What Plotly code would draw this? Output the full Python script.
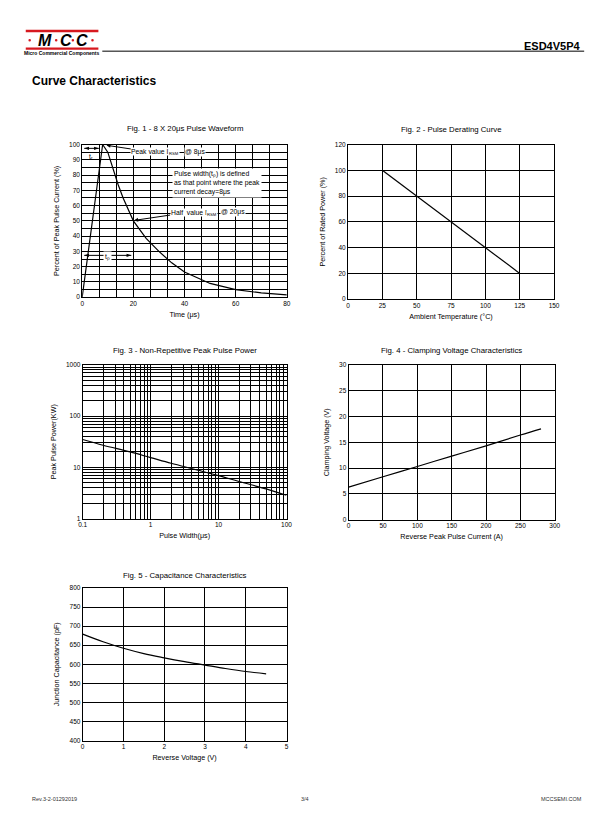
import plotly.graph_objects as go

OFF = 8  # default body margin of the html page
W, H = 592, 805  # keeps the page free of scrollbars inside a 612x825 window
FONT = "Liberation Sans, Arial, Helvetica, sans-serif"

# ---------------- data ----------------
fig1_t = [0, 8, 10, 12, 14, 16, 18, 20, 25, 30, 35, 40, 50, 60, 70, 80]
fig1_i = [0, 100, 95, 84, 74, 65, 57, 50, 38.5, 30, 22.5, 16.5, 9, 5, 2.8, 1.5]
fig1_tr_span = [0.8, 6.5]    # rise-time dimension arrow (μs)
fig1_tr_level = [97.5, 97.5]
fig1_tp_span = [0.8, 19.2]   # pulse-width dimension arrow (μs)
fig1_tp_level = [27.4, 27.4]

fig2_temp = [25, 125]
fig2_power = [100, 20]

fig3_width = [0.1, 0.2, 0.5, 1, 2, 5, 10, 20, 50, 100]
fig3_power = [35, 27, 20, 15.5, 12, 8.8, 6.9, 5.3, 3.8, 2.85]

fig4_current = [0, 50, 100, 150, 200, 250, 280]
fig4_voltage = [6.3, 8.3, 10.3, 12.3, 14.3, 16.4, 17.6]

fig5_voltage = [0, 0.5, 1, 1.5, 2, 2.5, 3, 3.5, 4, 4.5]
fig5_cap = [679, 659, 642, 628, 617, 607, 598, 589, 581, 575]

fig3_tickvals_x = [0.1, 1, 10, 100]
fig3_ticktext_x = ["0.1", "1", "10", "100"]
fig3_tickvals_y = [1, 10, 100, 1000]
fig3_ticktext_y = ["1", "10", "100", "1000"]

titles = [
    "Fig. 1 - 8 X 20μs Pulse Waveform",
    "Fig. 2 - Pulse Derating Curve",
    "Fig. 3 - Non-Repetitive Peak Pulse Power",
    "Fig. 4 - Clamping Voltage Characteristics",
    "Fig. 5 - Capacitance Characteristics",
]


# ---------------- helpers (page pixels -> paper) ----------------
def px(x):
    return (x - OFF) / W


def py(y):
    return 1 - (y - OFF) / H


# plot boxes in page pixels: (left, right, top, bottom)
boxes = [
    (78.5, 287.0, 141.7, 295.7),
    (349.3, 559.3, 141.7, 297.7),
    (79.0, 286.7, 364.0, 519.0),
    (350.0, 560.0, 364.0, 520.0),
    (79.0, 286.7, 589.0, 743.0),
]
title_y = [126, 127, 349, 349, 576]

fig = go.Figure()

line_style = dict(color="black", width=1.2)
spline_style = dict(color="black", width=1.2, shape="spline")
fig.add_trace(go.Scatter(x=fig1_t, y=fig1_i, mode="lines", line=line_style, xaxis="x", yaxis="y"))
fig.add_trace(go.Scatter(x=fig2_temp, y=fig2_power, mode="lines", line=line_style, xaxis="x2", yaxis="y2"))
fig.add_trace(go.Scatter(x=fig3_width, y=fig3_power, mode="lines", line=spline_style, xaxis="x3", yaxis="y3"))
fig.add_trace(go.Scatter(x=fig4_current, y=fig4_voltage, mode="lines", line=spline_style, xaxis="x4", yaxis="y4"))
fig.add_trace(go.Scatter(x=fig5_voltage, y=fig5_cap, mode="lines", line=spline_style, xaxis="x5", yaxis="y5"))

# dimension arrows of fig 1
for xs, ys in ((fig1_tr_span, fig1_tr_level), (fig1_tp_span, fig1_tp_level)):
    fig.add_trace(go.Scatter(
        x=xs, y=ys, mode="lines+markers", xaxis="x", yaxis="y",
        line=dict(color="black", width=1),
        marker=dict(symbol="arrow", angle=[-90, 90], size=5, color="black", line=dict(width=0)),
        hoverinfo="skip"))

tickfont = dict(family=FONT, size=6.5, color="black")
titlefont = dict(family=FONT, size=7.2, color="black")


def axis(domain, **kw):
    d = dict(
        domain=domain,
        showline=True,
        mirror=True,
        linecolor="black",
        linewidth=1,
        showgrid=True,
        gridcolor="black",
        gridwidth=1,
        zeroline=False,
        ticks="",
        tickfont=tickfont,
        fixedrange=True,
    )
    d.update(kw)
    return d


grid_minor = dict(showgrid=True, gridcolor="black", gridwidth=1)
axes_cfg = [
    # fig1
    (dict(range=[0, 80], dtick=20, title=dict(text="Time (μs)", font=titlefont, standoff=5),
          minor=dict(dtick=20 / 3, **grid_minor)),
     dict(range=[0, 100], dtick=10, title=dict(text="Percent of Peak Pulse Current (%)", font=titlefont, standoff=8),
          minor=dict(dtick=5, **grid_minor))),
    # fig2
    (dict(range=[0, 150], dtick=25, title=dict(text="Ambient Temperature (°C)", font=titlefont, standoff=5)),
     dict(range=[0, 120], dtick=20, title=dict(text="Percent of Rated Power (%)", font=titlefont, standoff=8))),
    # fig3
    (dict(type="log", range=[-1, 2], tickvals=fig3_tickvals_x, ticktext=fig3_ticktext_x,
          title=dict(text="Pulse Width(μs)", font=titlefont, standoff=5),
          minor=dict(dtick="D1", **grid_minor)),
     dict(type="log", range=[0, 3], tickvals=fig3_tickvals_y, ticktext=fig3_ticktext_y,
          title=dict(text="Peak Pulse Power(KW)", font=titlefont, standoff=8),
          minor=dict(dtick="D1", **grid_minor))),
    # fig4
    (dict(range=[0, 300], dtick=50, title=dict(text="Reverse Peak Pulse Current (A)", font=titlefont, standoff=5)),
     dict(range=[0, 30], dtick=5, title=dict(text="Clamping Voltage (V)", font=titlefont, standoff=8))),
    # fig5
    (dict(range=[0, 5], dtick=1, title=dict(text="Reverse Voltage (V)", font=titlefont, standoff=5)),
     dict(range=[400, 800], dtick=50, title=dict(text="Junction Capacitance (pF)", font=titlefont, standoff=8))),
]

layout = dict(
    width=W,
    height=H,
    autosize=False,
    margin=dict(l=0, r=0, t=0, b=0),
    paper_bgcolor="white",
    plot_bgcolor="white",
    showlegend=False,
    font=dict(family=FONT, color="black"),
)

for i, ((xa, ya), (l, r, t, b)) in enumerate(zip(axes_cfg, boxes)):
    n = "" if i == 0 else str(i + 1)
    layout["xaxis" + n] = axis([px(l), px(r)], anchor="y" + n, **xa)
    layout["yaxis" + n] = axis([py(b), py(t)], anchor="x" + n, **ya)

fig.update_layout(**layout)

annotations = []
# figure titles
for (l, r, t, b), ty, txt in zip(boxes, title_y, titles):
    annotations.append(dict(x=px((l + r) / 2), y=py(ty), xref="paper", yref="paper", text=txt,
                            showarrow=False, font=dict(family=FONT, size=7.8, color="black"),
                            xanchor="center", yanchor="middle"))

afont = dict(family=FONT, size=6.8, color="black")
sfont = dict(family=FONT, size=4.2, color="black")
arrow = dict(showarrow=True, arrowhead=2, arrowsize=0.8, arrowwidth=1, arrowcolor="black")
# Fig 1 annotations
annotations += [
    dict(x=3.6, y=92, xref="x", yref="y", text="tᵣ", showarrow=False, font=afont),
    # peak value
    dict(x=9.5, y=99.5, ax=26.6, ay=95.2, xref="x", yref="y", axref="x", ayref="y",
         text="Peak value I", font=afont, bgcolor="white", borderpad=0, **arrow),
    dict(x=36.0, y=95.2, xref="x", yref="y", text="RSM", showarrow=False, font=sfont, yshift=-2,
         bgcolor="white", borderpad=0),
    dict(x=44.2, y=95.2, xref="x", yref="y", text="@ 8μs", showarrow=False, font=afont,
         bgcolor="white", borderpad=0),
    # pulse width definition
    dict(x=52.8, y=74.5, xref="x", yref="y",
         text="Pulse width(tₚ) is defined<br>as that point where the peak<br>current decay=8μs",
         showarrow=False, align="left", font=afont, bgcolor="white", borderpad=1),
    # half value
    dict(x=20.3, y=50.3, ax=41.6, ay=55.6, xref="x", yref="y", axref="x", ayref="y",
         text="Half  value I", font=afont, bgcolor="white", borderpad=0, **arrow),
    dict(x=50.8, y=55.6, xref="x", yref="y", text="RSM", showarrow=False, font=sfont, yshift=-2,
         bgcolor="white", borderpad=0),
    dict(x=59.0, y=55.6, xref="x", yref="y", text="@ 20μs", showarrow=False, font=afont,
         bgcolor="white", borderpad=0),
    # t_p label
    dict(x=10, y=26.6, xref="x", yref="y", text="tₚ", showarrow=False, font=afont,
         bgcolor="white", borderpad=1),
]

RED = "#d7191f"
logo_font = dict(family=FONT, size=16, color="black", weight="bold", style="italic")
for cx, letter in ((40.5, "M"), (61.5, "C"), (78.5, "C")):
    annotations.append(dict(x=px(cx), y=py(36.3), xref="paper", yref="paper", text=letter, showarrow=False,
                            font=logo_font, xanchor="center", yanchor="middle"))

annotations += [
    dict(x=px(57.5), y=py(49.4), xref="paper", yref="paper", text="Micro Commercial Components",
         showarrow=False, font=dict(family="Liberation Sans Narrow, " + FONT, size=5, color="black", weight="bold"),
         xanchor="center", yanchor="middle"),
    dict(x=px(589), y=py(42), xref="paper", yref="paper", text="ESD4V5P4", showarrow=False,
         font=dict(family=FONT, size=11, color="black", weight="bold"), xanchor="right", yanchor="middle"),
    dict(x=px(25), y=py(78), xref="paper", yref="paper", text="Curve Characteristics", showarrow=False,
         font=dict(family=FONT, size=12, color="black", weight="bold"), xanchor="left", yanchor="middle"),
    dict(x=px(25), y=py(802), xref="paper", yref="paper", text="Rev.3-2-01292019", showarrow=False,
         font=dict(family=FONT, size=5.5, color="#333333"), xanchor="left", yanchor="middle"),
    dict(x=px(306), y=py(802), xref="paper", yref="paper", text="3/4", showarrow=False,
         font=dict(family=FONT, size=5.5, color="#333333"), xanchor="center", yanchor="middle"),
    dict(x=px(590), y=py(802), xref="paper", yref="paper", text="MCCSEMI.COM", showarrow=False,
         font=dict(family=FONT, size=5.5, color="#333333"), xanchor="right", yanchor="middle"),
]

shapes = [
    dict(type="rect", xref="paper", yref="paper", x0=px(21), x1=px(95), y0=py(28.5), y1=py(26),
         fillcolor=RED, line=dict(width=0)),
    dict(type="rect", xref="paper", yref="paper", x0=px(21), x1=px(95), y0=py(46), y1=py(43.8),
         fillcolor=RED, line=dict(width=0)),
    dict(type="line", xref="paper", yref="paper", x0=px(99), x1=px(590), y0=py(47.5), y1=py(47.5),
         line=dict(color="black", width=1)),
]
# red dots of the logo
for cx in (25, 52, 69, 89):
    shapes.append(dict(type="circle", xref="paper", yref="paper", x0=px(cx - 1.3), x1=px(cx + 1.3),
                       y0=py(37.8), y1=py(35.2), fillcolor=RED, line=dict(width=0)))

fig.update_layout(annotations=annotations, shapes=shapes)
fig.write_html("out.html")
